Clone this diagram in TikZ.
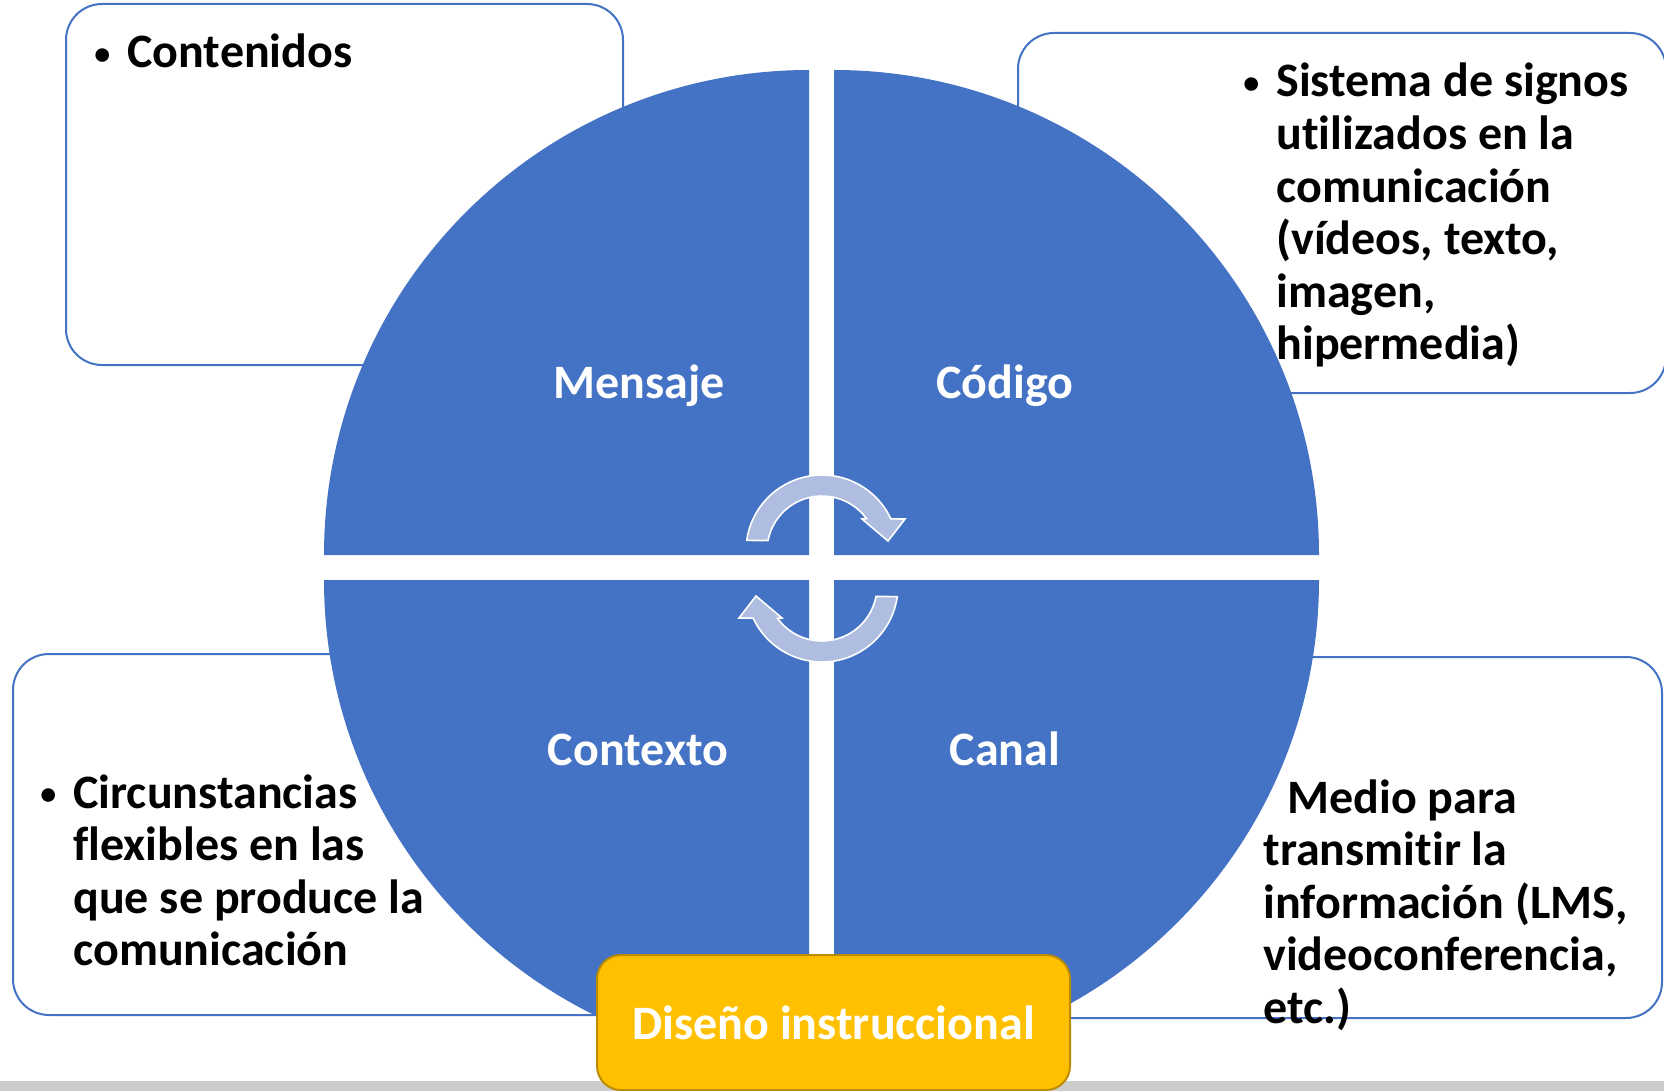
\documentclass[tikz,border=0pt]{standalone}
\usepackage{fontspec}
\setmainfont{Carlito}[Ligatures=NoCommon]
\definecolor{quadblue}{HTML}{4472C4}
\definecolor{arrowfill}{RGB}{174,189,224}
\definecolor{dgold}{HTML}{FFC000}
\definecolor{dgoldline}{HTML}{BC8C00}
\definecolor{barfill}{HTML}{CCCCCC}
\newcommand{\bul}{\llap{\makebox[25pt]{\raisebox{1.8pt}{\fontsize{16}{16}\selectfont\textbullet}}}}
\tikzset{
  infobox/.style={draw=quadblue, line width=1pt, fill=white, rounded corners=18pt},
  quadlabel/.style={text=white, font=\bfseries\fontsize{24}{26.3}\selectfont, anchor=base, inner sep=0pt},
  infotext/.style={font=\bfseries\fontsize{24}{26.3}\selectfont, anchor=base west, inner sep=0pt},
  cyclearrow/.style={fill=arrowfill, draw=white, line width=0.8pt},
  designbox/.style={fill=dgold, draw=dgoldline, line width=1pt, rounded corners=12pt,
    minimum width=236.5pt, minimum height=67.5pt, inner sep=0pt,
    text=white, font=\bfseries\fontsize{24}{26.3}\selectfont},
}

\begin{document}
\begin{tikzpicture}[x=0.5pt, y=-0.5pt]
			%%%%% START %%%%%
			\def\rq{485}
			\def\xl{809}
			\def\xr{834}
			\def\yt{555}
			\def\yb{580}
			\useasboundingbox (0,0) rectangle (1664,1091);
			
			\draw[infobox] (66,4) rectangle (623,365);
			\draw[infobox] (1018,33) rectangle (1666,393);
			\draw[infobox] (13,654) rectangle (700,1015);
			\draw[infobox] (950,657) rectangle (1662,1018);
			
			\fill[quadblue] (\xl,\yt) -- ++(180:\rq) arc (180:270:\rq) -- cycle;
			\fill[quadblue] (\xr,\yt) -- ++(270:\rq) arc (270:360:\rq) -- cycle;
			\fill[quadblue] (\xl,\yb) -- ++(90:\rq) arc (90:180:\rq) -- cycle;
			\fill[quadblue] (\xr,\yb) -- ++(0:\rq) arc (0:90:\rq) -- cycle;
			
			\node[quadlabel] (mensaje) at (639,398) {Mensaje};
			\node[quadlabel] (codigo) at (1005,398) {Código};
			\node[quadlabel] (contexto) at (638,765) {Contexto};
			\node[quadlabel] (canal) at (1005,765) {Canal};
			
			\foreach \rot in {0,180}{
				\begin{scope}[shift={(822,568.5)}, rotate=\rot, shift={(0,-17.5)}]
					\filldraw[cyclearrow] (188:76) arc (188:335:76) -- (83,-32) -- (66,-10) -- (40,-32) -- (324:55) arc (324:191:55) -- cycle;
				\end{scope}
			}
			
			\node[infotext] (contenidos) at (127,68) {\bul Contenidos};
			\node[infotext] (signos) at (1276,97) {\begin{tabular}[t]{@{}l@{}}\bul Sistema de signos\\utilizados en la\\comunicación\\(vídeos, texto,\\imagen,\\hipermedia)\end{tabular}};
			\node[infotext] (circunstancias) at (73,808) {\begin{tabular}[t]{@{}l@{}}\bul Circunstancias\\flexibles en las\\que se produce la\\comunicación\end{tabular}};
			\node[infotext] (medio) at (1263,813) {\begin{tabular}[t]{@{}l@{}}\hspace*{12pt}Medio para\\transmitir la\\información (LMS,\\videoconferencia,\\etc.)\end{tabular}};
			
			\fill[barfill] (0,1081) rectangle (1664,1091);
			\node[designbox] (diseno) at (833.5,1022.5) {Diseño instruccional};
			%%%%% END %%%%%
\end{tikzpicture}
\end{document}
